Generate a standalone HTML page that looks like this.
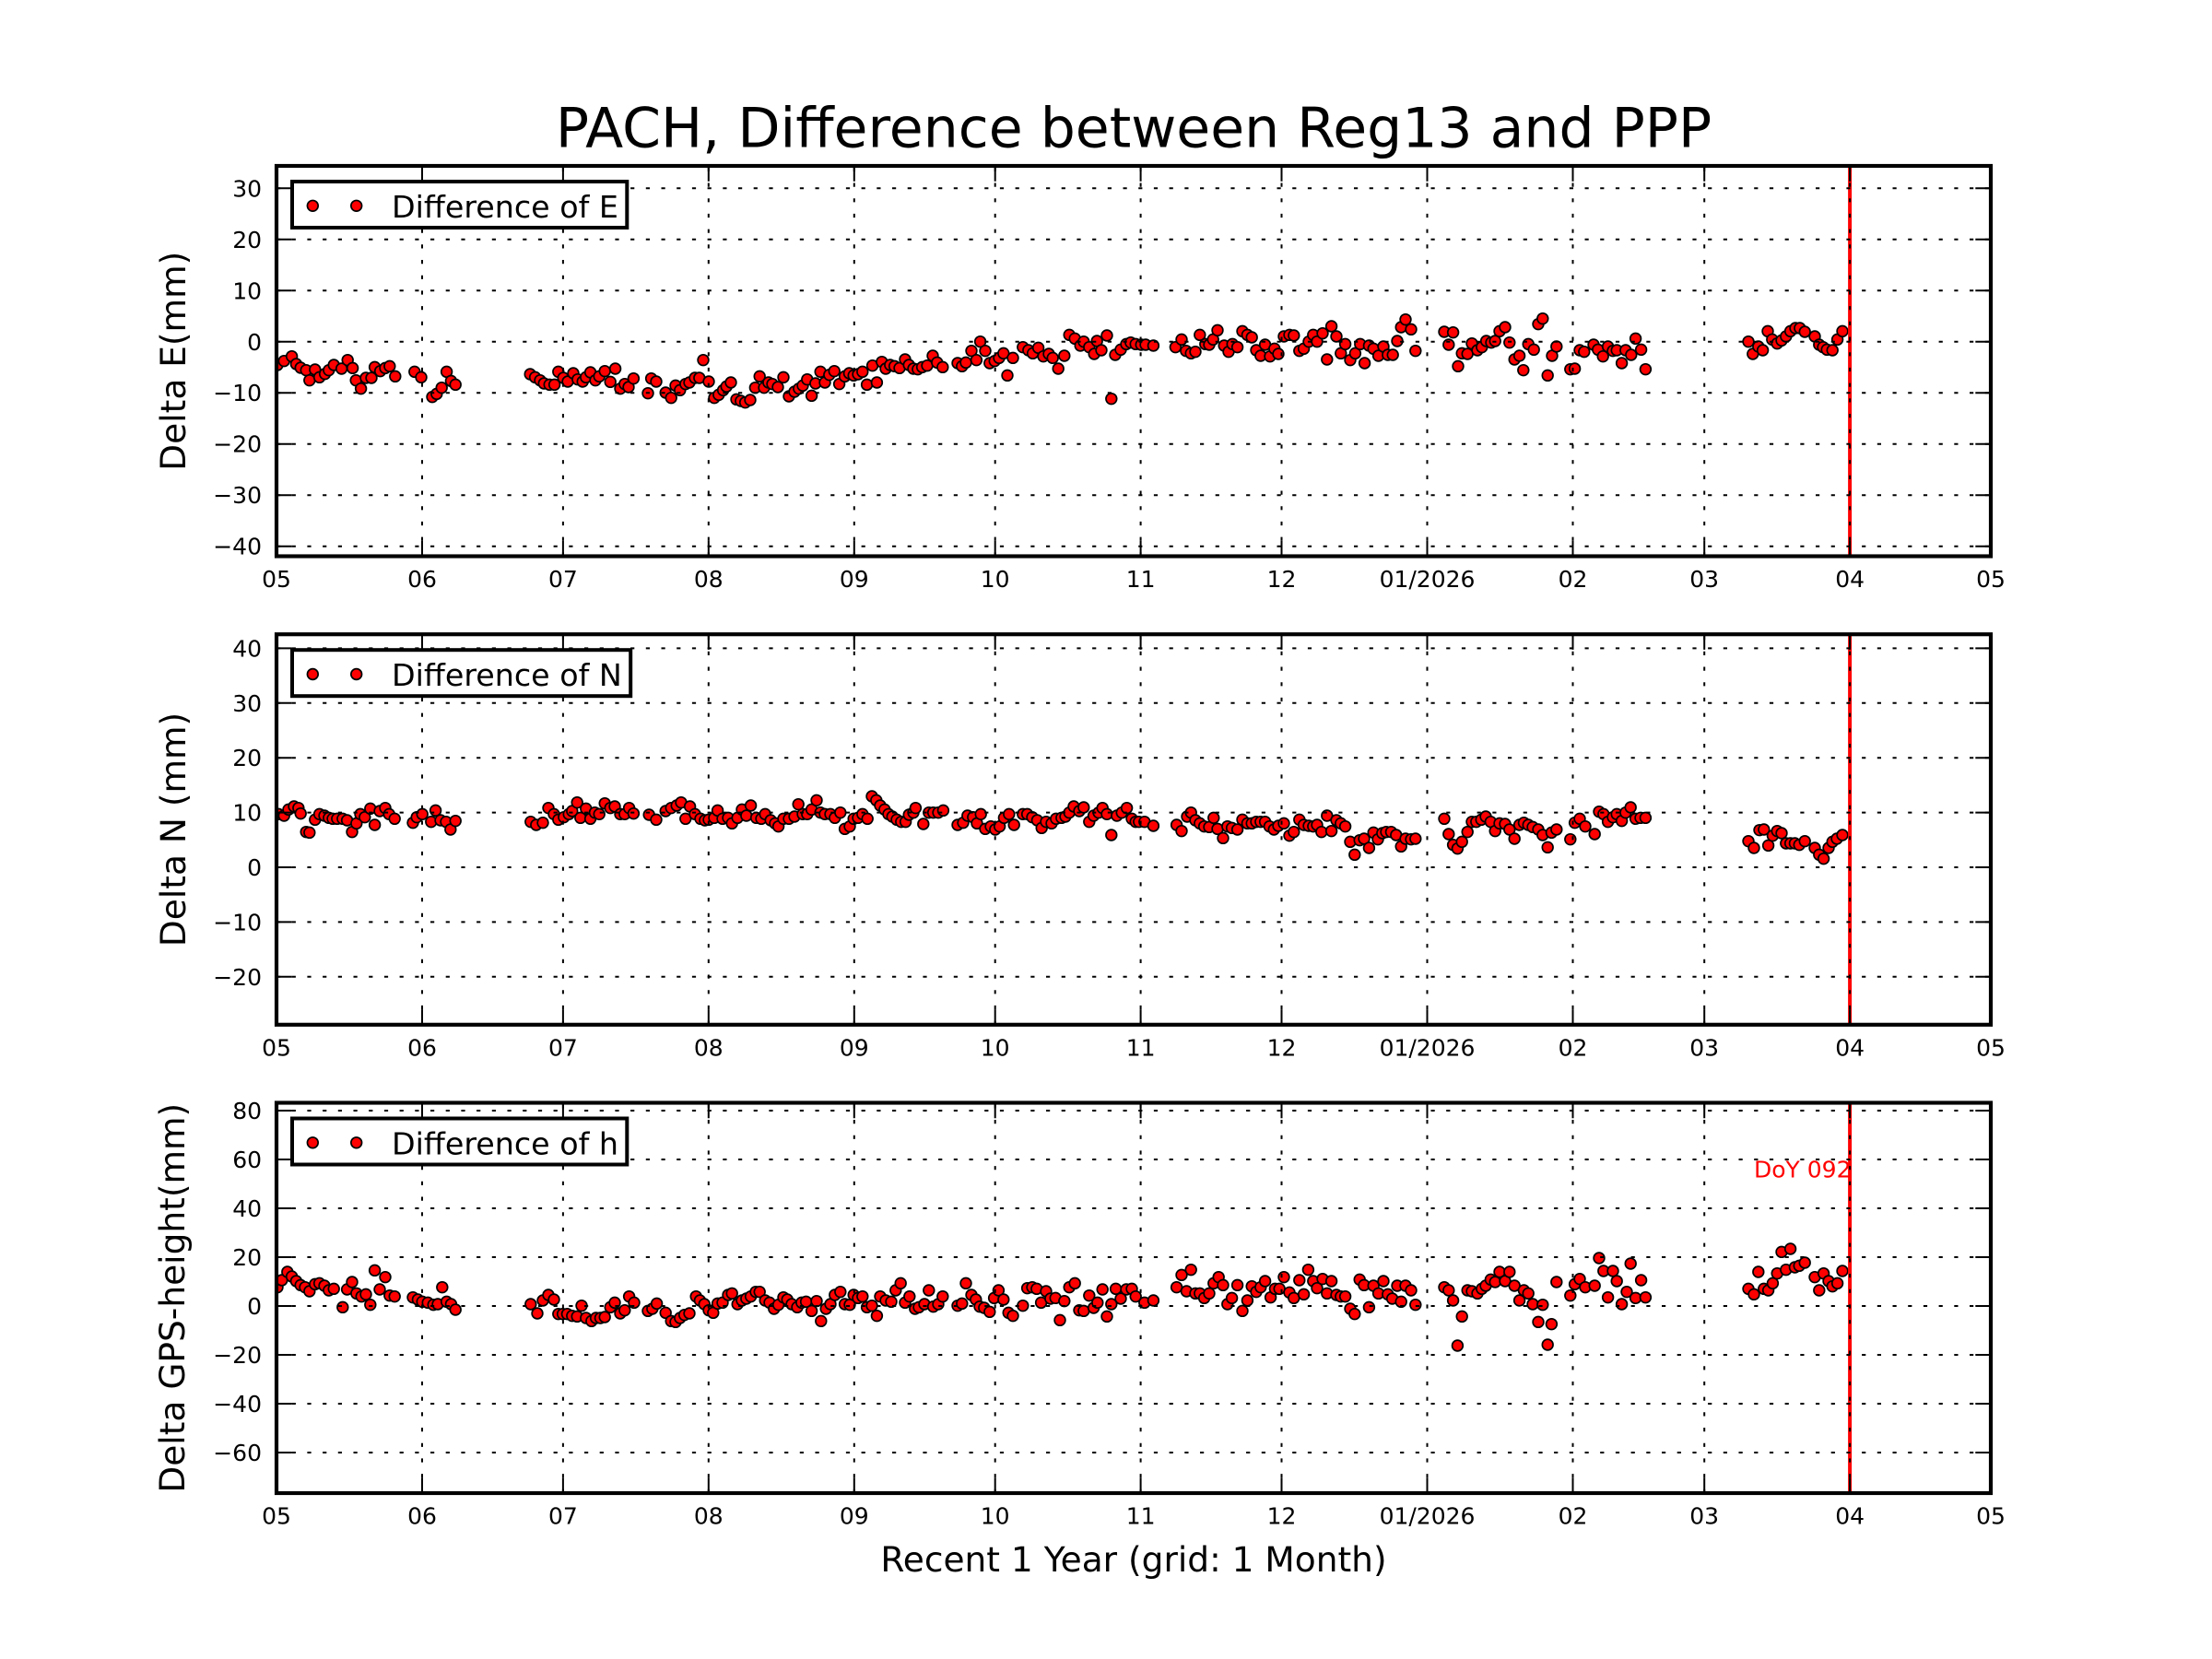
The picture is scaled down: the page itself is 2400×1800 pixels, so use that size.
<!DOCTYPE html>
<html><head><meta charset="utf-8"><style>
html,body{margin:0;padding:0;background:#fff}
svg{display:block}
text{font-family:"DejaVu Sans","Liberation Sans",sans-serif;fill:#000}
.tk{font-size:25px}
.lab{font-size:37.5px}
.leg{font-size:33.3px}
.grid{fill:none;stroke:#000;stroke-width:2;stroke-dasharray:4.2 12.5}
.ticks{fill:none;stroke:#000;stroke-width:2}
.spine{fill:none;stroke:#000;stroke-width:4.17}
.rl{stroke:#f00;stroke-width:4}
.lg{fill:#fff;stroke:#000;stroke-width:4}
</style></head><body>
<svg width="2400" height="1800" viewBox="0 0 2400 1800" xmlns="http://www.w3.org/2000/svg">
<defs>
<g id="d"><ellipse cx="0" cy="0" rx="11.17" ry="20.1" fill="#000"/><ellipse cx="0" cy="0" rx="8.33" ry="15" fill="#f00"/></g>
<clipPath id="c1"><rect x="300" y="180" width="1860" height="423.5"/></clipPath>
<clipPath id="c2"><rect x="300" y="688.2" width="1860" height="423.6"/></clipPath>
<clipPath id="c3"><rect x="300" y="1196.5" width="1860" height="423.5"/></clipPath>
</defs>
<rect width="2400" height="1800" fill="#fff"/>

<text x="1230" y="159.5" text-anchor="middle" style="font-size:60px">PACH, Difference between Reg13 and PPP</text>

<!-- ============ PANEL 1 ============ -->
<g clip-path="url(#c1)">
<g transform="translate(295,320) scale(0.6,0.3333333)">
<use href="#d" x="10" y="228"/><use href="#d" x="22" y="215"/><use href="#d" x="36" y="200"/><use href="#d" x="44" y="225"/><use href="#d" x="52" y="237"/><use href="#d" x="62" y="245"/><use href="#d" x="68" y="278"/><use href="#d" x="78" y="243"/><use href="#d" x="86" y="268"/><use href="#d" x="96" y="257"/><use href="#d" x="103" y="245"/><use href="#d" x="112" y="228"/><use href="#d" x="126" y="240"/><use href="#d" x="137" y="212"/><use href="#d" x="146" y="238"/><use href="#d" x="152" y="278"/><use href="#d" x="161" y="305"/><use href="#d" x="170" y="270"/><use href="#d" x="180" y="270"/><use href="#d" x="186" y="235"/><use href="#d" x="196" y="248"/><use href="#d" x="205" y="238"/><use href="#d" x="213" y="232"/><use href="#d" x="223" y="265"/><use href="#d" x="258" y="250"/><use href="#d" x="270" y="268"/><use href="#d" x="290" y="332"/><use href="#d" x="298" y="322"/><use href="#d" x="307" y="302"/><use href="#d" x="316" y="250"/><use href="#d" x="324" y="280"/><use href="#d" x="332" y="292"/><use href="#d" x="467" y="258"/><use href="#d" x="476" y="268"/><use href="#d" x="485" y="278"/><use href="#d" x="492" y="288"/><use href="#d" x="502" y="292"/><use href="#d" x="511" y="292"/><use href="#d" x="518" y="250"/><use href="#d" x="527" y="270"/><use href="#d" x="535" y="282"/><use href="#d" x="545" y="255"/><use href="#d" x="553" y="275"/><use href="#d" x="562" y="282"/><use href="#d" x="568" y="268"/><use href="#d" x="576" y="252"/><use href="#d" x="585" y="278"/><use href="#d" x="592" y="265"/><use href="#d" x="602" y="248"/><use href="#d" x="612" y="283"/><use href="#d" x="621" y="240"/><use href="#d" x="630" y="305"/><use href="#d" x="638" y="290"/><use href="#d" x="645" y="300"/><use href="#d" x="654" y="272"/><use href="#d" x="680" y="320"/><use href="#d" x="686" y="272"/><use href="#d" x="695" y="282"/><use href="#d" x="712" y="318"/><use href="#d" x="722" y="335"/><use href="#d" x="730" y="295"/><use href="#d" x="738" y="310"/><use href="#d" x="748" y="290"/><use href="#d" x="755" y="285"/><use href="#d" x="765" y="270"/><use href="#d" x="773" y="270"/><use href="#d" x="780" y="212"/><use href="#d" x="790" y="282"/><use href="#d" x="800" y="335"/><use href="#d" x="808" y="325"/><use href="#d" x="816" y="310"/><use href="#d" x="822" y="298"/><use href="#d" x="830" y="285"/><use href="#d" x="840" y="340"/><use href="#d" x="848" y="345"/><use href="#d" x="856" y="350"/><use href="#d" x="865" y="342"/><use href="#d" x="874" y="302"/><use href="#d" x="882" y="265"/><use href="#d" x="890" y="302"/><use href="#d" x="898" y="285"/><use href="#d" x="905" y="290"/><use href="#d" x="915" y="300"/><use href="#d" x="925" y="268"/><use href="#d" x="935" y="330"/><use href="#d" x="945" y="315"/><use href="#d" x="953" y="305"/><use href="#d" x="960" y="295"/><use href="#d" x="968" y="275"/><use href="#d" x="976" y="328"/><use href="#d" x="983" y="288"/><use href="#d" x="992" y="250"/><use href="#d" x="1000" y="285"/><use href="#d" x="1008" y="260"/><use href="#d" x="1017" y="248"/><use href="#d" x="1026" y="290"/><use href="#d" x="1036" y="265"/><use href="#d" x="1044" y="255"/><use href="#d" x="1052" y="262"/><use href="#d" x="1060" y="258"/><use href="#d" x="1068" y="250"/><use href="#d" x="1076" y="292"/><use href="#d" x="1086" y="230"/><use href="#d" x="1094" y="285"/><use href="#d" x="1103" y="218"/><use href="#d" x="1110" y="240"/><use href="#d" x="1118" y="228"/><use href="#d" x="1126" y="232"/><use href="#d" x="1135" y="238"/><use href="#d" x="1145" y="210"/><use href="#d" x="1152" y="228"/><use href="#d" x="1160" y="240"/><use href="#d" x="1168" y="242"/><use href="#d" x="1176" y="235"/><use href="#d" x="1185" y="230"/><use href="#d" x="1195" y="198"/><use href="#d" x="1203" y="220"/><use href="#d" x="1213" y="235"/><use href="#d" x="1240" y="222"/><use href="#d" x="1248" y="232"/><use href="#d" x="1255" y="220"/><use href="#d" x="1265" y="182"/><use href="#d" x="1274" y="212"/><use href="#d" x="1281" y="152"/><use href="#d" x="1290" y="182"/><use href="#d" x="1298" y="222"/><use href="#d" x="1307" y="215"/><use href="#d" x="1315" y="205"/><use href="#d" x="1323" y="190"/><use href="#d" x="1330" y="262"/><use href="#d" x="1340" y="205"/><use href="#d" x="1358" y="170"/><use href="#d" x="1368" y="180"/><use href="#d" x="1376" y="190"/><use href="#d" x="1386" y="172"/><use href="#d" x="1395" y="200"/><use href="#d" x="1405" y="192"/><use href="#d" x="1412" y="205"/><use href="#d" x="1422" y="240"/><use href="#d" x="1433" y="198"/><use href="#d" x="1442" y="130"/><use href="#d" x="1452" y="142"/><use href="#d" x="1462" y="165"/><use href="#d" x="1468" y="152"/><use href="#d" x="1478" y="170"/><use href="#d" x="1487" y="192"/><use href="#d" x="1492" y="150"/><use href="#d" x="1500" y="180"/><use href="#d" x="1510" y="132"/><use href="#d" x="1518" y="338"/><use href="#d" x="1525" y="195"/><use href="#d" x="1535" y="178"/><use href="#d" x="1545" y="160"/><use href="#d" x="1553" y="155"/><use href="#d" x="1562" y="160"/>
</g>
<g transform="translate(1225,320) scale(0.6,0.3333333)">
<use href="#d" x="22" y="162"/><use href="#d" x="30" y="162"/><use href="#d" x="44" y="165"/><use href="#d" x="84" y="170"/><use href="#d" x="95" y="145"/><use href="#d" x="103" y="182"/><use href="#d" x="112" y="190"/><use href="#d" x="120" y="185"/><use href="#d" x="128" y="130"/><use href="#d" x="138" y="160"/><use href="#d" x="145" y="162"/><use href="#d" x="152" y="145"/><use href="#d" x="160" y="115"/><use href="#d" x="172" y="165"/><use href="#d" x="180" y="185"/><use href="#d" x="187" y="160"/><use href="#d" x="196" y="170"/><use href="#d" x="205" y="118"/><use href="#d" x="214" y="130"/><use href="#d" x="222" y="138"/><use href="#d" x="230" y="180"/><use href="#d" x="238" y="198"/><use href="#d" x="246" y="162"/><use href="#d" x="255" y="200"/><use href="#d" x="263" y="175"/><use href="#d" x="270" y="192"/><use href="#d" x="280" y="135"/><use href="#d" x="290" y="130"/><use href="#d" x="298" y="132"/><use href="#d" x="308" y="182"/><use href="#d" x="316" y="175"/><use href="#d" x="325" y="152"/><use href="#d" x="333" y="130"/><use href="#d" x="340" y="152"/><use href="#d" x="350" y="125"/><use href="#d" x="358" y="210"/><use href="#d" x="366" y="102"/><use href="#d" x="375" y="135"/><use href="#d" x="383" y="190"/><use href="#d" x="391" y="160"/><use href="#d" x="400" y="212"/><use href="#d" x="409" y="190"/><use href="#d" x="418" y="160"/><use href="#d" x="426" y="222"/><use href="#d" x="434" y="165"/><use href="#d" x="442" y="175"/><use href="#d" x="451" y="198"/><use href="#d" x="460" y="168"/><use href="#d" x="468" y="195"/><use href="#d" x="477" y="195"/><use href="#d" x="485" y="150"/><use href="#d" x="492" y="105"/><use href="#d" x="500" y="80"/><use href="#d" x="510" y="112"/><use href="#d" x="518" y="182"/><use href="#d" x="570" y="120"/><use href="#d" x="578" y="162"/><use href="#d" x="586" y="122"/><use href="#d" x="595" y="232"/><use href="#d" x="602" y="190"/><use href="#d" x="612" y="192"/><use href="#d" x="620" y="158"/><use href="#d" x="630" y="180"/><use href="#d" x="638" y="170"/><use href="#d" x="646" y="150"/><use href="#d" x="655" y="155"/><use href="#d" x="662" y="150"/><use href="#d" x="670" y="118"/><use href="#d" x="680" y="105"/><use href="#d" x="688" y="155"/><use href="#d" x="697" y="210"/><use href="#d" x="706" y="198"/><use href="#d" x="713" y="245"/><use href="#d" x="722" y="160"/><use href="#d" x="732" y="178"/><use href="#d" x="740" y="95"/><use href="#d" x="748" y="77"/><use href="#d" x="757" y="262"/><use href="#d" x="765" y="198"/><use href="#d" x="773" y="168"/><use href="#d" x="798" y="242"/><use href="#d" x="806" y="240"/><use href="#d" x="815" y="180"/><use href="#d" x="823" y="185"/><use href="#d" x="840" y="162"/><use href="#d" x="848" y="178"/><use href="#d" x="857" y="200"/><use href="#d" x="866" y="168"/><use href="#d" x="875" y="182"/><use href="#d" x="882" y="180"/><use href="#d" x="891" y="222"/><use href="#d" x="898" y="180"/><use href="#d" x="908" y="195"/><use href="#d" x="916" y="142"/><use href="#d" x="926" y="178"/><use href="#d" x="934" y="242"/><use href="#d" x="1120" y="152"/><use href="#d" x="1128" y="192"/><use href="#d" x="1138" y="168"/><use href="#d" x="1146" y="180"/><use href="#d" x="1155" y="118"/><use href="#d" x="1163" y="145"/><use href="#d" x="1172" y="158"/><use href="#d" x="1180" y="148"/><use href="#d" x="1188" y="135"/><use href="#d" x="1196" y="118"/><use href="#d" x="1205" y="108"/><use href="#d" x="1213" y="108"/><use href="#d" x="1222" y="120"/><use href="#d" x="1240" y="135"/><use href="#d" x="1248" y="162"/><use href="#d" x="1255" y="170"/><use href="#d" x="1262" y="178"/><use href="#d" x="1272" y="180"/><use href="#d" x="1281" y="145"/><use href="#d" x="1290" y="118"/>
</g>
</g>
<line class="rl" x1="2007.1" y1="180" x2="2007.1" y2="603.5"/>
<path class="grid" d="M300 204.3H2160M300 259.8H2160M300 315.3H2160M300 370.75H2160M300 426.2H2160M300 481.7H2160M300 537.2H2160M300 592.7H2160M458 603.5V180M610.9 603.5V180M768.8 603.5V180M926.8 603.5V180M1079.7 603.5V180M1237.6 603.5V180M1390.5 603.5V180M1548.5 603.5V180M1706.5 603.5V180M1849.2 603.5V180M2007.1 603.5V180"/>
<path class="ticks" d="M300 204.3h16.7M300 259.8h16.7M300 315.3h16.7M300 370.75h16.7M300 426.2h16.7M300 481.7h16.7M300 537.2h16.7M300 592.7h16.7M2160 204.3h-16.7M2160 259.8h-16.7M2160 315.3h-16.7M2160 370.75h-16.7M2160 426.2h-16.7M2160 481.7h-16.7M2160 537.2h-16.7M2160 592.7h-16.7M458 603.5v-16.7M610.9 603.5v-16.7M768.8 603.5v-16.7M926.8 603.5v-16.7M1079.7 603.5v-16.7M1237.6 603.5v-16.7M1390.5 603.5v-16.7M1548.5 603.5v-16.7M1706.5 603.5v-16.7M1849.2 603.5v-16.7M2007.1 603.5v-16.7M458 180v16.7M610.9 180v16.7M768.8 180v16.7M926.8 180v16.7M1079.7 180v16.7M1237.6 180v16.7M1390.5 180v16.7M1548.5 180v16.7M1706.5 180v16.7M1849.2 180v16.7M2007.1 180v16.7"/>
<rect class="spine" x="300" y="180" width="1860" height="423.5"/>
<g class="tk" text-anchor="end">
<text x="284" y="213.3">30</text><text x="284" y="268.8">20</text><text x="284" y="324.3">10</text><text x="284" y="379.8">0</text><text x="284" y="435.2">−10</text><text x="284" y="490.7">−20</text><text x="284" y="546.2">−30</text><text x="284" y="601.7">−40</text>
</g>
<g class="tk" text-anchor="middle">
<text x="300" y="637">05</text><text x="458" y="637">06</text><text x="610.9" y="637">07</text><text x="768.8" y="637">08</text><text x="926.8" y="637">09</text><text x="1079.7" y="637">10</text><text x="1237.6" y="637">11</text><text x="1390.5" y="637">12</text><text x="1548.5" y="637">01/2026</text><text x="1706.5" y="637">02</text><text x="1849.2" y="637">03</text><text x="2007.1" y="637">04</text><text x="2160" y="637">05</text>
</g>
<text class="lab" transform="translate(201,391.75) rotate(-90)" text-anchor="middle">Delta E(mm)</text>
<rect class="lg" x="317" y="197" width="363.3" height="50"/>
<circle cx="339.3" cy="223.3" r="6.7" fill="#000"/><circle cx="339.3" cy="223.3" r="5" fill="#f00"/>
<circle cx="386.7" cy="223.3" r="6.7" fill="#000"/><circle cx="386.7" cy="223.3" r="5" fill="#f00"/>
<text class="leg" x="425" y="236">Difference of E</text>

<!-- ============ PANEL 2 ============ -->
<g clip-path="url(#c2)">
<g transform="translate(295,850) scale(0.6,0.3333333)">
<use href="#d" x="0" y="180"/><use href="#d" x="12" y="100"/><use href="#d" x="22" y="105"/><use href="#d" x="30" y="85"/><use href="#d" x="40" y="75"/><use href="#d" x="48" y="80"/><use href="#d" x="52" y="98"/><use href="#d" x="62" y="158"/><use href="#d" x="68" y="160"/><use href="#d" x="78" y="118"/><use href="#d" x="86" y="100"/><use href="#d" x="95" y="105"/><use href="#d" x="103" y="112"/><use href="#d" x="110" y="115"/><use href="#d" x="118" y="115"/><use href="#d" x="128" y="115"/><use href="#d" x="136" y="120"/><use href="#d" x="145" y="158"/><use href="#d" x="153" y="130"/><use href="#d" x="160" y="100"/><use href="#d" x="168" y="110"/><use href="#d" x="178" y="82"/><use href="#d" x="186" y="135"/><use href="#d" x="195" y="90"/><use href="#d" x="205" y="80"/><use href="#d" x="212" y="100"/><use href="#d" x="222" y="115"/><use href="#d" x="255" y="128"/><use href="#d" x="262" y="110"/><use href="#d" x="272" y="100"/><use href="#d" x="288" y="125"/><use href="#d" x="296" y="88"/><use href="#d" x="305" y="120"/><use href="#d" x="315" y="125"/><use href="#d" x="323" y="150"/><use href="#d" x="332" y="122"/><use href="#d" x="468" y="125"/><use href="#d" x="478" y="135"/><use href="#d" x="490" y="128"/><use href="#d" x="500" y="80"/><use href="#d" x="510" y="100"/><use href="#d" x="518" y="118"/><use href="#d" x="528" y="110"/><use href="#d" x="537" y="100"/><use href="#d" x="543" y="90"/><use href="#d" x="552" y="62"/><use href="#d" x="558" y="112"/><use href="#d" x="568" y="82"/><use href="#d" x="576" y="115"/><use href="#d" x="584" y="95"/><use href="#d" x="592" y="100"/><use href="#d" x="602" y="65"/><use href="#d" x="612" y="80"/><use href="#d" x="620" y="75"/><use href="#d" x="630" y="100"/><use href="#d" x="638" y="100"/><use href="#d" x="646" y="80"/><use href="#d" x="654" y="98"/><use href="#d" x="682" y="102"/><use href="#d" x="695" y="118"/><use href="#d" x="712" y="90"/><use href="#d" x="722" y="80"/><use href="#d" x="732" y="72"/><use href="#d" x="740" y="62"/><use href="#d" x="748" y="115"/><use href="#d" x="756" y="75"/><use href="#d" x="765" y="100"/><use href="#d" x="775" y="115"/><use href="#d" x="783" y="120"/><use href="#d" x="790" y="118"/><use href="#d" x="800" y="112"/><use href="#d" x="806" y="88"/><use href="#d" x="815" y="115"/><use href="#d" x="825" y="112"/><use href="#d" x="832" y="130"/><use href="#d" x="842" y="112"/><use href="#d" x="850" y="85"/><use href="#d" x="858" y="105"/><use href="#d" x="866" y="72"/><use href="#d" x="876" y="112"/><use href="#d" x="885" y="115"/><use href="#d" x="892" y="100"/><use href="#d" x="902" y="120"/><use href="#d" x="910" y="130"/><use href="#d" x="916" y="140"/><use href="#d" x="925" y="115"/><use href="#d" x="935" y="115"/><use href="#d" x="945" y="108"/><use href="#d" x="952" y="68"/><use href="#d" x="960" y="100"/><use href="#d" x="968" y="100"/><use href="#d" x="976" y="85"/><use href="#d" x="985" y="55"/><use href="#d" x="992" y="95"/><use href="#d" x="1000" y="100"/><use href="#d" x="1010" y="100"/><use href="#d" x="1018" y="112"/><use href="#d" x="1028" y="95"/><use href="#d" x="1036" y="148"/><use href="#d" x="1045" y="140"/><use href="#d" x="1052" y="115"/><use href="#d" x="1060" y="112"/><use href="#d" x="1068" y="100"/><use href="#d" x="1077" y="115"/><use href="#d" x="1085" y="42"/><use href="#d" x="1093" y="55"/><use href="#d" x="1100" y="72"/><use href="#d" x="1108" y="85"/><use href="#d" x="1115" y="100"/><use href="#d" x="1122" y="108"/><use href="#d" x="1130" y="118"/><use href="#d" x="1138" y="125"/><use href="#d" x="1146" y="125"/><use href="#d" x="1152" y="102"/><use href="#d" x="1160" y="95"/><use href="#d" x="1164" y="80"/><use href="#d" x="1178" y="132"/><use href="#d" x="1188" y="95"/><use href="#d" x="1196" y="95"/><use href="#d" x="1205" y="95"/><use href="#d" x="1214" y="88"/><use href="#d" x="1240" y="135"/><use href="#d" x="1250" y="128"/><use href="#d" x="1258" y="105"/><use href="#d" x="1268" y="110"/><use href="#d" x="1275" y="130"/><use href="#d" x="1282" y="100"/><use href="#d" x="1290" y="148"/><use href="#d" x="1300" y="140"/><use href="#d" x="1308" y="150"/><use href="#d" x="1316" y="140"/><use href="#d" x="1324" y="112"/><use href="#d" x="1333" y="100"/><use href="#d" x="1342" y="135"/><use href="#d" x="1358" y="100"/><use href="#d" x="1366" y="100"/><use href="#d" x="1375" y="110"/><use href="#d" x="1384" y="120"/><use href="#d" x="1392" y="145"/><use href="#d" x="1400" y="125"/><use href="#d" x="1410" y="130"/><use href="#d" x="1418" y="115"/><use href="#d" x="1428" y="112"/><use href="#d" x="1435" y="108"/><use href="#d" x="1442" y="95"/><use href="#d" x="1450" y="75"/><use href="#d" x="1460" y="90"/><use href="#d" x="1468" y="78"/><use href="#d" x="1478" y="125"/><use href="#d" x="1486" y="105"/><use href="#d" x="1495" y="95"/><use href="#d" x="1502" y="80"/><use href="#d" x="1510" y="100"/><use href="#d" x="1518" y="168"/><use href="#d" x="1528" y="105"/><use href="#d" x="1537" y="95"/><use href="#d" x="1546" y="80"/><use href="#d" x="1555" y="115"/><use href="#d" x="1562" y="125"/>
</g>
<g transform="translate(1225,850) scale(0.6,0.3333333)">
<use href="#d" x="18" y="125"/><use href="#d" x="28" y="125"/><use href="#d" x="44" y="138"/><use href="#d" x="86" y="135"/><use href="#d" x="95" y="155"/><use href="#d" x="105" y="108"/><use href="#d" x="112" y="95"/><use href="#d" x="120" y="120"/><use href="#d" x="128" y="130"/><use href="#d" x="136" y="140"/><use href="#d" x="145" y="142"/><use href="#d" x="153" y="112"/><use href="#d" x="160" y="148"/><use href="#d" x="170" y="178"/><use href="#d" x="178" y="140"/><use href="#d" x="186" y="145"/><use href="#d" x="196" y="150"/><use href="#d" x="205" y="118"/><use href="#d" x="214" y="130"/><use href="#d" x="222" y="130"/><use href="#d" x="230" y="125"/><use href="#d" x="238" y="125"/><use href="#d" x="246" y="125"/><use href="#d" x="254" y="140"/><use href="#d" x="262" y="150"/><use href="#d" x="270" y="138"/><use href="#d" x="280" y="130"/><use href="#d" x="290" y="170"/><use href="#d" x="298" y="158"/><use href="#d" x="308" y="118"/><use href="#d" x="316" y="135"/><use href="#d" x="325" y="138"/><use href="#d" x="333" y="140"/><use href="#d" x="340" y="135"/><use href="#d" x="348" y="158"/><use href="#d" x="358" y="105"/><use href="#d" x="366" y="155"/><use href="#d" x="375" y="120"/><use href="#d" x="383" y="130"/><use href="#d" x="391" y="140"/><use href="#d" x="400" y="190"/><use href="#d" x="408" y="232"/><use href="#d" x="417" y="185"/><use href="#d" x="425" y="180"/><use href="#d" x="434" y="210"/><use href="#d" x="442" y="160"/><use href="#d" x="450" y="182"/><use href="#d" x="458" y="162"/><use href="#d" x="465" y="158"/><use href="#d" x="474" y="158"/><use href="#d" x="483" y="168"/><use href="#d" x="492" y="205"/><use href="#d" x="500" y="180"/><use href="#d" x="510" y="182"/><use href="#d" x="518" y="180"/><use href="#d" x="570" y="115"/><use href="#d" x="578" y="165"/><use href="#d" x="586" y="200"/><use href="#d" x="594" y="212"/><use href="#d" x="602" y="190"/><use href="#d" x="612" y="158"/><use href="#d" x="620" y="125"/><use href="#d" x="628" y="125"/><use href="#d" x="637" y="118"/><use href="#d" x="645" y="108"/><use href="#d" x="654" y="125"/><use href="#d" x="662" y="155"/><use href="#d" x="670" y="130"/><use href="#d" x="680" y="132"/><use href="#d" x="688" y="150"/><use href="#d" x="697" y="180"/><use href="#d" x="706" y="135"/><use href="#d" x="714" y="128"/><use href="#d" x="722" y="135"/><use href="#d" x="730" y="142"/><use href="#d" x="740" y="150"/><use href="#d" x="748" y="168"/><use href="#d" x="757" y="208"/><use href="#d" x="764" y="160"/><use href="#d" x="773" y="150"/><use href="#d" x="798" y="182"/><use href="#d" x="806" y="128"/><use href="#d" x="815" y="115"/><use href="#d" x="825" y="140"/><use href="#d" x="842" y="165"/><use href="#d" x="850" y="92"/><use href="#d" x="858" y="100"/><use href="#d" x="866" y="125"/><use href="#d" x="875" y="110"/><use href="#d" x="882" y="100"/><use href="#d" x="891" y="122"/><use href="#d" x="898" y="95"/><use href="#d" x="907" y="78"/><use href="#d" x="916" y="115"/><use href="#d" x="925" y="112"/><use href="#d" x="934" y="112"/><use href="#d" x="1120" y="188"/><use href="#d" x="1130" y="210"/><use href="#d" x="1140" y="152"/><use href="#d" x="1148" y="150"/><use href="#d" x="1156" y="202"/><use href="#d" x="1164" y="170"/><use href="#d" x="1172" y="155"/><use href="#d" x="1180" y="162"/><use href="#d" x="1188" y="195"/><use href="#d" x="1196" y="195"/><use href="#d" x="1204" y="195"/><use href="#d" x="1212" y="200"/><use href="#d" x="1222" y="188"/><use href="#d" x="1240" y="210"/><use href="#d" x="1248" y="232"/><use href="#d" x="1256" y="245"/><use href="#d" x="1265" y="210"/><use href="#d" x="1272" y="190"/><use href="#d" x="1280" y="180"/><use href="#d" x="1290" y="168"/>
</g>
</g>
<line class="rl" x1="2007.1" y1="688.2" x2="2007.1" y2="1111.8"/>
<path class="grid" d="M300 703.4H2160M300 762.8H2160M300 822.2H2160M300 881.6H2160M300 941H2160M300 1000.4H2160M300 1059.8H2160M458 1111.8V688.2M610.9 1111.8V688.2M768.8 1111.8V688.2M926.8 1111.8V688.2M1079.7 1111.8V688.2M1237.6 1111.8V688.2M1390.5 1111.8V688.2M1548.5 1111.8V688.2M1706.5 1111.8V688.2M1849.2 1111.8V688.2M2007.1 1111.8V688.2"/>
<path class="ticks" d="M300 703.4h16.7M300 762.8h16.7M300 822.2h16.7M300 881.6h16.7M300 941h16.7M300 1000.4h16.7M300 1059.8h16.7M2160 703.4h-16.7M2160 762.8h-16.7M2160 822.2h-16.7M2160 881.6h-16.7M2160 941h-16.7M2160 1000.4h-16.7M2160 1059.8h-16.7M458 1111.8v-16.7M610.9 1111.8v-16.7M768.8 1111.8v-16.7M926.8 1111.8v-16.7M1079.7 1111.8v-16.7M1237.6 1111.8v-16.7M1390.5 1111.8v-16.7M1548.5 1111.8v-16.7M1706.5 1111.8v-16.7M1849.2 1111.8v-16.7M2007.1 1111.8v-16.7M458 688.2v16.7M610.9 688.2v16.7M768.8 688.2v16.7M926.8 688.2v16.7M1079.7 688.2v16.7M1237.6 688.2v16.7M1390.5 688.2v16.7M1548.5 688.2v16.7M1706.5 688.2v16.7M1849.2 688.2v16.7M2007.1 688.2v16.7"/>
<rect class="spine" x="300" y="688.2" width="1860" height="423.6"/>
<g class="tk" text-anchor="end">
<text x="284" y="712.4">40</text><text x="284" y="771.8">30</text><text x="284" y="831.2">20</text><text x="284" y="890.6">10</text><text x="284" y="950">0</text><text x="284" y="1009.4">−10</text><text x="284" y="1068.8">−20</text>
</g>
<g class="tk" text-anchor="middle">
<text x="300" y="1145.3">05</text><text x="458" y="1145.3">06</text><text x="610.9" y="1145.3">07</text><text x="768.8" y="1145.3">08</text><text x="926.8" y="1145.3">09</text><text x="1079.7" y="1145.3">10</text><text x="1237.6" y="1145.3">11</text><text x="1390.5" y="1145.3">12</text><text x="1548.5" y="1145.3">01/2026</text><text x="1706.5" y="1145.3">02</text><text x="1849.2" y="1145.3">03</text><text x="2007.1" y="1145.3">04</text><text x="2160" y="1145.3">05</text>
</g>
<text class="lab" transform="translate(201,900) rotate(-90)" text-anchor="middle">Delta N (mm)</text>
<rect class="lg" x="317" y="705.2" width="367.2" height="50"/>
<circle cx="339.3" cy="731.5" r="6.7" fill="#000"/><circle cx="339.3" cy="731.5" r="5" fill="#f00"/>
<circle cx="386.7" cy="731.5" r="6.7" fill="#000"/><circle cx="386.7" cy="731.5" r="5" fill="#f00"/>
<text class="leg" x="425" y="744.2">Difference of N</text>

<!-- ============ PANEL 3 ============ -->
<g clip-path="url(#c3)">
<g transform="translate(295,1335) scale(0.6,0.3333333)">
<use href="#d" x="10" y="185"/><use href="#d" x="18" y="162"/><use href="#d" x="28" y="135"/><use href="#d" x="36" y="150"/><use href="#d" x="44" y="165"/><use href="#d" x="52" y="178"/><use href="#d" x="60" y="185"/><use href="#d" x="68" y="198"/><use href="#d" x="78" y="175"/><use href="#d" x="86" y="172"/><use href="#d" x="95" y="180"/><use href="#d" x="103" y="195"/><use href="#d" x="112" y="190"/><use href="#d" x="128" y="250"/><use href="#d" x="136" y="192"/><use href="#d" x="145" y="168"/><use href="#d" x="153" y="205"/><use href="#d" x="162" y="215"/><use href="#d" x="170" y="208"/><use href="#d" x="178" y="242"/><use href="#d" x="186" y="130"/><use href="#d" x="195" y="192"/><use href="#d" x="205" y="152"/><use href="#d" x="213" y="212"/><use href="#d" x="222" y="215"/><use href="#d" x="255" y="218"/><use href="#d" x="264" y="225"/><use href="#d" x="272" y="232"/><use href="#d" x="282" y="235"/><use href="#d" x="292" y="242"/><use href="#d" x="300" y="240"/><use href="#d" x="308" y="185"/><use href="#d" x="316" y="232"/><use href="#d" x="324" y="240"/><use href="#d" x="332" y="258"/><use href="#d" x="468" y="240"/><use href="#d" x="480" y="270"/><use href="#d" x="490" y="228"/><use href="#d" x="500" y="210"/><use href="#d" x="510" y="225"/><use href="#d" x="518" y="272"/><use href="#d" x="526" y="272"/><use href="#d" x="534" y="272"/><use href="#d" x="543" y="278"/><use href="#d" x="552" y="280"/><use href="#d" x="560" y="245"/><use href="#d" x="568" y="285"/><use href="#d" x="578" y="295"/><use href="#d" x="586" y="285"/><use href="#d" x="594" y="285"/><use href="#d" x="602" y="282"/><use href="#d" x="612" y="250"/><use href="#d" x="620" y="235"/><use href="#d" x="630" y="270"/><use href="#d" x="638" y="260"/><use href="#d" x="646" y="215"/><use href="#d" x="655" y="235"/><use href="#d" x="680" y="262"/><use href="#d" x="688" y="255"/><use href="#d" x="696" y="238"/><use href="#d" x="712" y="268"/><use href="#d" x="722" y="295"/><use href="#d" x="730" y="298"/><use href="#d" x="738" y="285"/><use href="#d" x="746" y="275"/><use href="#d" x="755" y="270"/><use href="#d" x="767" y="215"/><use href="#d" x="774" y="228"/><use href="#d" x="782" y="240"/><use href="#d" x="790" y="260"/><use href="#d" x="798" y="268"/><use href="#d" x="806" y="238"/><use href="#d" x="815" y="235"/><use href="#d" x="825" y="210"/><use href="#d" x="832" y="205"/><use href="#d" x="842" y="240"/><use href="#d" x="850" y="228"/><use href="#d" x="858" y="222"/><use href="#d" x="866" y="215"/><use href="#d" x="875" y="200"/><use href="#d" x="882" y="200"/><use href="#d" x="892" y="228"/><use href="#d" x="900" y="235"/><use href="#d" x="908" y="255"/><use href="#d" x="916" y="242"/><use href="#d" x="925" y="218"/><use href="#d" x="932" y="225"/><use href="#d" x="940" y="240"/><use href="#d" x="950" y="250"/><use href="#d" x="958" y="235"/><use href="#d" x="966" y="232"/><use href="#d" x="976" y="262"/><use href="#d" x="985" y="230"/><use href="#d" x="993" y="295"/><use href="#d" x="1002" y="255"/><use href="#d" x="1010" y="240"/><use href="#d" x="1018" y="210"/><use href="#d" x="1028" y="200"/><use href="#d" x="1036" y="240"/><use href="#d" x="1045" y="242"/><use href="#d" x="1052" y="210"/><use href="#d" x="1060" y="220"/><use href="#d" x="1068" y="215"/><use href="#d" x="1076" y="250"/><use href="#d" x="1085" y="245"/><use href="#d" x="1094" y="278"/><use href="#d" x="1100" y="215"/><use href="#d" x="1110" y="228"/><use href="#d" x="1120" y="232"/><use href="#d" x="1128" y="195"/><use href="#d" x="1137" y="172"/><use href="#d" x="1145" y="235"/><use href="#d" x="1153" y="215"/><use href="#d" x="1163" y="255"/><use href="#d" x="1170" y="250"/><use href="#d" x="1180" y="240"/><use href="#d" x="1188" y="195"/><use href="#d" x="1196" y="248"/><use href="#d" x="1205" y="240"/><use href="#d" x="1213" y="215"/><use href="#d" x="1240" y="245"/><use href="#d" x="1248" y="238"/><use href="#d" x="1255" y="172"/><use href="#d" x="1265" y="210"/><use href="#d" x="1273" y="225"/><use href="#d" x="1280" y="248"/><use href="#d" x="1288" y="252"/><use href="#d" x="1298" y="265"/><use href="#d" x="1306" y="220"/><use href="#d" x="1314" y="195"/><use href="#d" x="1323" y="225"/><use href="#d" x="1332" y="268"/><use href="#d" x="1340" y="278"/><use href="#d" x="1358" y="245"/><use href="#d" x="1366" y="188"/><use href="#d" x="1375" y="185"/><use href="#d" x="1383" y="190"/><use href="#d" x="1391" y="235"/><use href="#d" x="1400" y="198"/><use href="#d" x="1408" y="222"/><use href="#d" x="1417" y="220"/><use href="#d" x="1425" y="292"/><use href="#d" x="1433" y="230"/><use href="#d" x="1442" y="185"/><use href="#d" x="1452" y="172"/><use href="#d" x="1460" y="260"/><use href="#d" x="1468" y="262"/><use href="#d" x="1478" y="212"/><use href="#d" x="1486" y="252"/><use href="#d" x="1493" y="235"/><use href="#d" x="1502" y="192"/><use href="#d" x="1510" y="280"/><use href="#d" x="1518" y="240"/><use href="#d" x="1526" y="190"/><use href="#d" x="1535" y="222"/><use href="#d" x="1545" y="192"/><use href="#d" x="1555" y="190"/><use href="#d" x="1562" y="215"/>
</g>
<g transform="translate(1225,1335) scale(0.6,0.3333333)">
<use href="#d" x="28" y="235"/><use href="#d" x="44" y="228"/><use href="#d" x="86" y="185"/><use href="#d" x="95" y="145"/><use href="#d" x="104" y="198"/><use href="#d" x="112" y="128"/><use href="#d" x="120" y="205"/><use href="#d" x="128" y="205"/><use href="#d" x="136" y="220"/><use href="#d" x="145" y="205"/><use href="#d" x="153" y="172"/><use href="#d" x="162" y="152"/><use href="#d" x="170" y="178"/><use href="#d" x="178" y="240"/><use href="#d" x="186" y="220"/><use href="#d" x="196" y="178"/><use href="#d" x="205" y="262"/><use href="#d" x="214" y="228"/><use href="#d" x="222" y="182"/><use href="#d" x="230" y="200"/><use href="#d" x="238" y="185"/><use href="#d" x="246" y="165"/><use href="#d" x="256" y="218"/><use href="#d" x="264" y="190"/><use href="#d" x="272" y="190"/><use href="#d" x="280" y="152"/><use href="#d" x="290" y="202"/><use href="#d" x="298" y="220"/><use href="#d" x="308" y="162"/><use href="#d" x="316" y="208"/><use href="#d" x="324" y="128"/><use href="#d" x="333" y="165"/><use href="#d" x="340" y="188"/><use href="#d" x="350" y="158"/><use href="#d" x="358" y="205"/><use href="#d" x="366" y="165"/><use href="#d" x="375" y="210"/><use href="#d" x="383" y="215"/><use href="#d" x="391" y="215"/><use href="#d" x="400" y="255"/><use href="#d" x="408" y="272"/><use href="#d" x="417" y="160"/><use href="#d" x="425" y="178"/><use href="#d" x="434" y="250"/><use href="#d" x="442" y="180"/><use href="#d" x="451" y="205"/><use href="#d" x="460" y="165"/><use href="#d" x="468" y="208"/><use href="#d" x="476" y="222"/><use href="#d" x="485" y="180"/><use href="#d" x="492" y="232"/><use href="#d" x="500" y="180"/><use href="#d" x="510" y="195"/><use href="#d" x="518" y="242"/><use href="#d" x="570" y="185"/><use href="#d" x="578" y="195"/><use href="#d" x="586" y="228"/><use href="#d" x="594" y="375"/><use href="#d" x="602" y="280"/><use href="#d" x="612" y="195"/><use href="#d" x="620" y="198"/><use href="#d" x="630" y="205"/><use href="#d" x="638" y="190"/><use href="#d" x="645" y="180"/><use href="#d" x="654" y="160"/><use href="#d" x="662" y="168"/><use href="#d" x="670" y="135"/><use href="#d" x="680" y="165"/><use href="#d" x="688" y="135"/><use href="#d" x="697" y="180"/><use href="#d" x="706" y="228"/><use href="#d" x="714" y="195"/><use href="#d" x="722" y="205"/><use href="#d" x="730" y="240"/><use href="#d" x="740" y="298"/><use href="#d" x="748" y="242"/><use href="#d" x="757" y="372"/><use href="#d" x="764" y="305"/><use href="#d" x="773" y="168"/><use href="#d" x="798" y="212"/><use href="#d" x="806" y="175"/><use href="#d" x="815" y="158"/><use href="#d" x="825" y="185"/><use href="#d" x="842" y="180"/><use href="#d" x="850" y="90"/><use href="#d" x="858" y="132"/><use href="#d" x="866" y="218"/><use href="#d" x="875" y="132"/><use href="#d" x="882" y="165"/><use href="#d" x="891" y="240"/><use href="#d" x="900" y="200"/><use href="#d" x="907" y="108"/><use href="#d" x="916" y="220"/><use href="#d" x="926" y="162"/><use href="#d" x="934" y="218"/><use href="#d" x="1120" y="190"/><use href="#d" x="1130" y="208"/><use href="#d" x="1138" y="135"/><use href="#d" x="1148" y="190"/><use href="#d" x="1156" y="195"/><use href="#d" x="1164" y="172"/><use href="#d" x="1172" y="140"/><use href="#d" x="1180" y="70"/><use href="#d" x="1188" y="128"/><use href="#d" x="1196" y="60"/><use href="#d" x="1204" y="120"/><use href="#d" x="1212" y="115"/><use href="#d" x="1222" y="105"/><use href="#d" x="1240" y="152"/><use href="#d" x="1248" y="195"/><use href="#d" x="1256" y="140"/><use href="#d" x="1265" y="165"/><use href="#d" x="1272" y="182"/><use href="#d" x="1281" y="172"/><use href="#d" x="1290" y="132"/>
</g>
</g>
<line class="rl" x1="2007.1" y1="1196.5" x2="2007.1" y2="1620"/>
<path class="grid" d="M300 1205H2160M300 1258H2160M300 1311H2160M300 1364H2160M300 1417H2160M300 1470H2160M300 1523H2160M300 1576H2160M458 1620V1196.5M610.9 1620V1196.5M768.8 1620V1196.5M926.8 1620V1196.5M1079.7 1620V1196.5M1237.6 1620V1196.5M1390.5 1620V1196.5M1548.5 1620V1196.5M1706.5 1620V1196.5M1849.2 1620V1196.5M2007.1 1620V1196.5"/>
<path class="ticks" d="M300 1205h16.7M300 1258h16.7M300 1311h16.7M300 1364h16.7M300 1417h16.7M300 1470h16.7M300 1523h16.7M300 1576h16.7M2160 1205h-16.7M2160 1258h-16.7M2160 1311h-16.7M2160 1364h-16.7M2160 1417h-16.7M2160 1470h-16.7M2160 1523h-16.7M2160 1576h-16.7M458 1620v-16.7M610.9 1620v-16.7M768.8 1620v-16.7M926.8 1620v-16.7M1079.7 1620v-16.7M1237.6 1620v-16.7M1390.5 1620v-16.7M1548.5 1620v-16.7M1706.5 1620v-16.7M1849.2 1620v-16.7M2007.1 1620v-16.7M458 1196.5v16.7M610.9 1196.5v16.7M768.8 1196.5v16.7M926.8 1196.5v16.7M1079.7 1196.5v16.7M1237.6 1196.5v16.7M1390.5 1196.5v16.7M1548.5 1196.5v16.7M1706.5 1196.5v16.7M1849.2 1196.5v16.7M2007.1 1196.5v16.7"/>
<rect class="spine" x="300" y="1196.5" width="1860" height="423.5"/>
<g class="tk" text-anchor="end">
<text x="284" y="1214">80</text><text x="284" y="1267">60</text><text x="284" y="1320">40</text><text x="284" y="1373">20</text><text x="284" y="1426">0</text><text x="284" y="1479">−20</text><text x="284" y="1532">−40</text><text x="284" y="1585">−60</text>
</g>
<g class="tk" text-anchor="middle">
<text x="300" y="1653.3">05</text><text x="458" y="1653.3">06</text><text x="610.9" y="1653.3">07</text><text x="768.8" y="1653.3">08</text><text x="926.8" y="1653.3">09</text><text x="1079.7" y="1653.3">10</text><text x="1237.6" y="1653.3">11</text><text x="1390.5" y="1653.3">12</text><text x="1548.5" y="1653.3">01/2026</text><text x="1706.5" y="1653.3">02</text><text x="1849.2" y="1653.3">03</text><text x="2007.1" y="1653.3">04</text><text x="2160" y="1653.3">05</text>
</g>
<text class="lab" transform="translate(200,1408.25) rotate(-90)" text-anchor="middle">Delta GPS-height(mm)</text>
<rect class="lg" x="317" y="1213.5" width="363.3" height="50"/>
<circle cx="339.3" cy="1239.8" r="6.7" fill="#000"/><circle cx="339.3" cy="1239.8" r="5" fill="#f00"/>
<circle cx="386.7" cy="1239.8" r="6.7" fill="#000"/><circle cx="386.7" cy="1239.8" r="5" fill="#f00"/>
<text class="leg" x="425" y="1252.5">Difference of h</text>
<text x="2008.5" y="1277.3" text-anchor="end" style="font-size:25px;fill:#f00">DoY 092</text>

<text class="lab" x="1230" y="1705" text-anchor="middle">Recent 1 Year (grid: 1 Month)</text>
</svg>
</body></html>
